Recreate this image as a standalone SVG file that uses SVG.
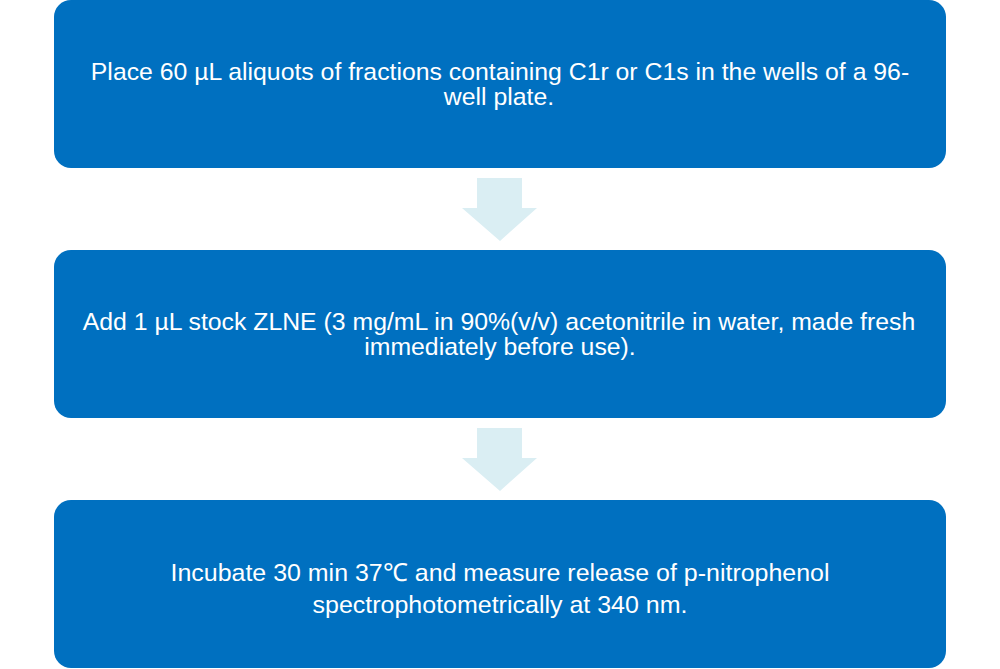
<svg xmlns="http://www.w3.org/2000/svg" width="1000" height="669" viewBox="0 0 1000 669">
<style>
.box{fill:#0070C0}
.t{font-family:"Liberation Sans",Arial,sans-serif;font-size:24.8px;fill:#FFFFFF;text-anchor:middle}
.arr{fill:#DAEEF3}
</style>
<rect width="1000" height="669" fill="#FFFFFF"/>
<g id="node1">
<rect class="box" x="54" y="0" width="892" height="168" rx="17" ry="17"/>
<text class="t" x="500" y="80">Place 60 µL aliquots of fractions containing C1r or C1s in the wells of a 96-</text>
<text class="t" x="499" y="105">well plate.</text>
</g>
<g id="node2">
<rect class="box" x="54" y="250" width="892" height="168" rx="17" ry="17"/>
<text class="t" x="499" y="330">Add 1 µL stock ZLNE (3 mg/mL in 90%(v/v) acetonitrile in water, made fresh</text>
<text class="t" x="500" y="355">immediately before use).</text>
</g>
<g id="node3">
<rect class="box" x="54" y="500" width="892" height="168" rx="17" ry="17"/>
<text class="t" x="500" y="581" textLength="659" lengthAdjust="spacingAndGlyphs">Incubate 30 min 37℃ and measure release of p-nitrophenol</text>
<text class="t" x="500" y="613" textLength="375" lengthAdjust="spacingAndGlyphs">spectrophotometrically at 340 nm.</text>
</g>
<g id="connectors">
<polygon class="arr" points="477,178 522,178 522,208 537,208 500,241 462,208 477,208"/>
<polygon class="arr" points="477,428 522,428 522,458 537,458 500,491 462,458 477,458"/>
</g>
</svg>
